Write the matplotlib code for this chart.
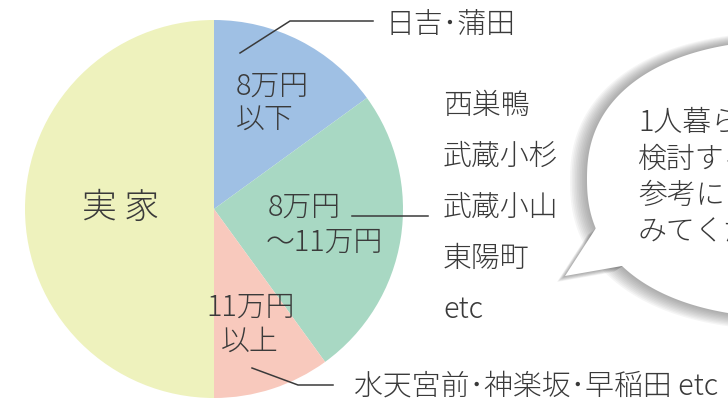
import numpy as np
import matplotlib.pyplot as plt
from matplotlib.patches import Polygon

plt.rcParams['font.family'] = ['Noto Sans CJK JP', 'DejaVu Sans']
plt.rcParams['font.weight'] = 'light'

# 家賃の分布 (上から時計回り)
categories = ['8万円以下', '8万円～11万円', '11万円以上', '実家']
shares = [15, 25, 10, 50]
colors = ['#9fc0e4', '#a8d8c3', '#f8c9bd', '#eef2bd']

inner_labels = [['8万円', '以下'], ['8万円', '～11万円'], ['11万円', '以上'], ['実 家']]
area_low = '日吉･蒲田'
area_mid = ['西巣鴨', '武蔵小杉', '武蔵小山', '東陽町', 'etc']
area_high = '水天宮前･神楽坂･早稲田 etc'
bubble_lines = ['1人暮らしを', '検討する人は', '参考にして', 'みてください']

txt = '#3a3a3a'
fs = 20.8

W, H = 728, 401
fig = plt.figure(figsize=(W / 100, H / 100), dpi=100)

# 円グラフ (中心 214,209 半径 189 px)
cx, cy, r = 214, 209, 189
axp = fig.add_axes([(cx - r) / W, (H - cy - r) / H, 2 * r / W, 2 * r / H])
axp.pie(shares, colors=colors, startangle=90, counterclock=False,
        wedgeprops=dict(linewidth=0))
axp.set_aspect('auto')
axp.set_xlim(-1, 1)
axp.set_ylim(-1, 1)
axp.axis('off')

# 注釈用 (ピクセル座標)
ax = fig.add_axes([0, 0, 1, 1])
ax.set_xlim(0, W)
ax.set_ylim(H, 0)
ax.axis('off')
ax.patch.set_alpha(0)

# 吹き出し
def bubble_shape(bx, by, rx, ry, n=2.3):
    t = np.linspace(0, 2 * np.pi, 400)
    c, s = np.cos(t), np.sin(t)
    x = bx + rx * np.sign(c) * np.abs(c) ** (2 / n)
    y = by + ry * np.sign(s) * np.abs(s) ** (2 / n)
    return np.column_stack([x, y])

tail = np.array([[596, 228], [565, 276], [622, 266], [660, 240]])
for k in range(10, 0, -1):
    ax.add_patch(Polygon(bubble_shape(799 - k * 0.7, 179 + k * 0.2, 212 + k, 139 + k),
                         closed=True, fc='#505050', ec='none', alpha=0.055))
    ax.add_patch(Polygon(tail + np.array([-k * 0.8, k * 0.6]), closed=True,
                         fc='#505050', ec='none', alpha=0.055))
ax.add_patch(Polygon(bubble_shape(799, 179, 212, 139), closed=True, fc='white', ec='none'))
ax.add_patch(Polygon(tail, closed=True, fc='white', ec='none'))
for i, line in enumerate(bubble_lines):
    ax.text(638, 123 + i * 36.5, line, fontsize=fs, color=txt, ha='left', va='center')

# 円内ラベル
ax.text(236, 86, inner_labels[0][0], fontsize=fs, color=txt, ha='left', va='center')
ax.text(236, 119, inner_labels[0][1], fontsize=fs, color=txt, ha='left', va='center')
ax.text(268, 207, inner_labels[1][0], fontsize=fs, color=txt, ha='left', va='center')
ax.text(266, 242, inner_labels[1][1], fontsize=fs, color=txt, ha='left', va='center')
ax.text(251, 307, inner_labels[2][0], fontsize=fs, color=txt, ha='center', va='center')
ax.text(250, 342, inner_labels[2][1], fontsize=fs, color=txt, ha='center', va='center')
ax.text(121, 208, inner_labels[3][0], fontsize=25, color=txt, ha='center', va='center')

# 引き出し線と地域名
lc = '#3a3a3a'
ax.plot([240, 290, 373], [53, 21, 21], color=lc, lw=1.1)
ax.text(386, 25, area_low, fontsize=fs, color=txt, ha='left', va='center')

ax.plot([352, 428], [216, 216], color=lc, lw=1.1)
for i, name in enumerate(area_mid):
    ax.text(443, 106 + i * 51, name, fontsize=fs, color=txt, ha='left', va='center')

ax.plot([252, 298, 333], [368, 385, 385], color=lc, lw=1.1)
ax.text(354, 386, area_high, fontsize=fs, color=txt, ha='left', va='center')

fig.savefig('out.png', dpi=100)
